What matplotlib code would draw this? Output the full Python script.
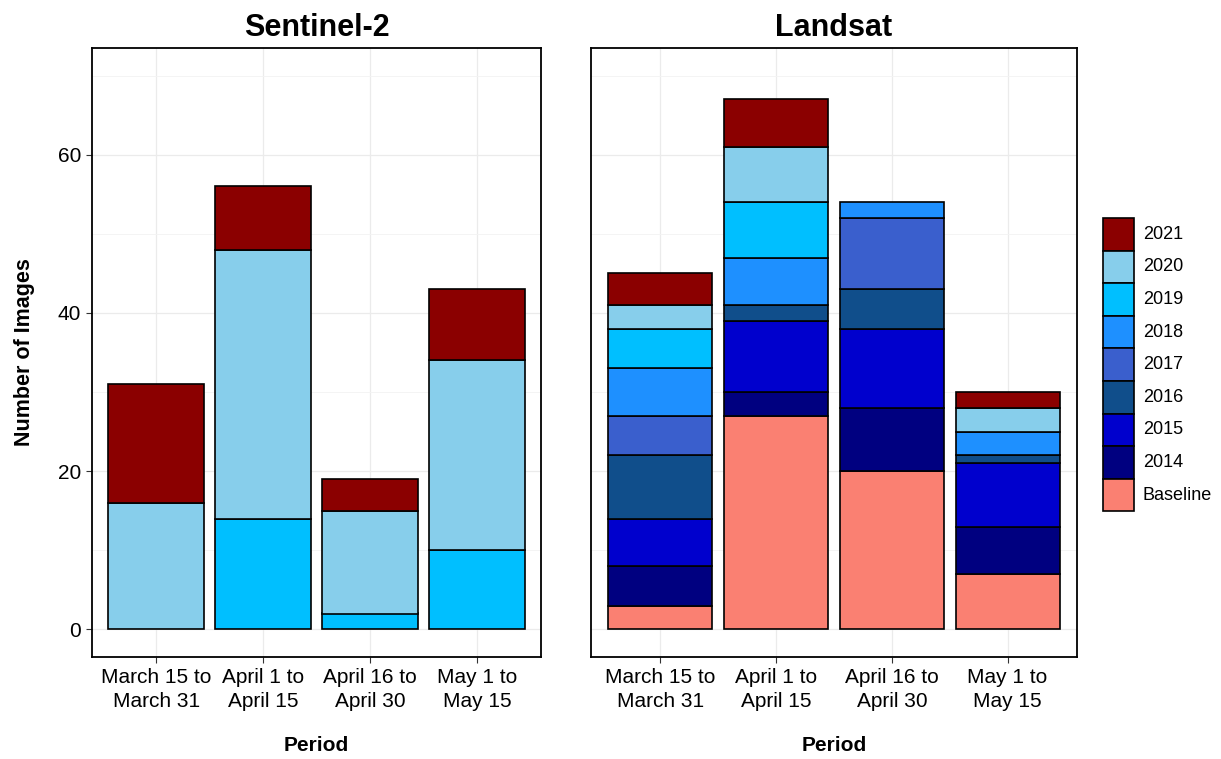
import matplotlib
matplotlib.use("Agg")
import matplotlib.pyplot as plt
from matplotlib.patches import Rectangle
import numpy as np

plt.rcParams['font.family'] = ['Liberation Sans', 'DejaVu Sans']

periods = ["March 15 to\nMarch 31", "April 1 to\nApril 15", "April 16 to\nApril 30", "May 1 to\nMay 15"]
groups = ["Baseline", "2014", "2015", "2016", "2017", "2018", "2019", "2020", "2021"]
colors = {"Baseline": "#FA8072", "2014": "#000080", "2015": "#0000CD", "2016": "#104E8B",
          "2017": "#3A5FCD", "2018": "#1E90FF", "2019": "#00BFFF", "2020": "#87CEEB",
          "2021": "#8B0000"}

# Sentinel-2 counts per period
s2_2019 = [0, 14, 2, 10]
s2_2020 = [16, 34, 13, 24]
s2_2021 = [15, 8, 4, 9]

# Landsat counts per period
ls_baseline = [3, 27, 20, 7]
ls_2014 = [5, 3, 8, 6]
ls_2015 = [6, 9, 10, 8]
ls_2016 = [8, 2, 5, 1]
ls_2017 = [5, 0, 9, 0]
ls_2018 = [6, 6, 2, 3]
ls_2019 = [5, 7, 0, 0]
ls_2020 = [3, 7, 0, 3]
ls_2021 = [4, 6, 0, 2]

s2 = {"2019": s2_2019, "2020": s2_2020, "2021": s2_2021}
ls = {"Baseline": ls_baseline, "2014": ls_2014, "2015": ls_2015, "2016": ls_2016,
      "2017": ls_2017, "2018": ls_2018, "2019": ls_2019, "2020": ls_2020, "2021": ls_2021}

fig = plt.figure(figsize=(12.21, 7.59), dpi=100)
W, H = 1221, 759
def rect(l, t, r, b):
    return [l / W, 1 - b / H, (r - l) / W, (b - t) / H]

ax1 = fig.add_axes(rect(92, 48, 541, 657))
ax2 = fig.add_axes(rect(591, 48, 1077, 657))

def draw(ax, data, title, show_y):
    x = np.arange(1, len(periods) + 1)
    bottom = np.zeros(len(periods))
    for g in groups:
        if g not in data:
            continue
        vals = np.array(data[g], dtype=float)
        mask = vals > 0
        ax.bar(x[mask], vals[mask], bottom=bottom[mask], width=0.9, color=colors[g],
               edgecolor="black", linewidth=1.2, zorder=3)
        bottom += vals
    ax.set_xlim(0.4, 4.6)
    ax.set_ylim(-3.5, 73.5)
    ax.set_xticks(x)
    ax.set_xticklabels(periods, fontsize=15, linespacing=1.3)
    ax.set_yticks([0, 20, 40, 60])
    ax.set_yticks([10, 30, 50, 70], minor=True)
    ax.grid(True, which="major", color="#EBEBEB", linewidth=0.9, zorder=0)
    ax.grid(True, which="minor", axis="y", color="#F3F3F3", linewidth=0.6, zorder=0)
    ax.tick_params(axis="both", which="major", length=4, color="#333333", labelsize=15, pad=4)
    ax.tick_params(axis="y", which="minor", length=0)
    for s in ax.spines.values():
        s.set_linewidth(1.3)
        s.set_color("black")
    ax.set_title(title, fontsize=22, fontweight="bold", pad=9)
    ax.set_xlabel("Period", fontsize=15, fontweight="bold", labelpad=18)
    if show_y:
        ax.set_ylabel("Number of Images", fontsize=15.5, fontweight="bold", labelpad=16)
    else:
        ax.tick_params(axis="y", which="both", left=False, labelleft=False)

draw(ax1, s2, "Sentinel-2", True)
draw(ax2, ls, "Landsat", False)

# legend
legend_order = groups[::-1]
kx, kw, kh, ktop = 1103, 31, 32.6, 218
for i, g in enumerate(legend_order):
    t = ktop + i * kh
    fig.patches.append(Rectangle((kx / W, 1 - (t + kh) / H), kw / W, kh / H,
                                 transform=fig.transFigure, facecolor=colors[g],
                                 edgecolor="black", linewidth=1.2))
    fig.text(1143 / W, 1 - (t + kh / 2) / H, g, fontsize=13, va="center", ha="left")

fig.savefig("out.png", dpi=100, facecolor="white")
